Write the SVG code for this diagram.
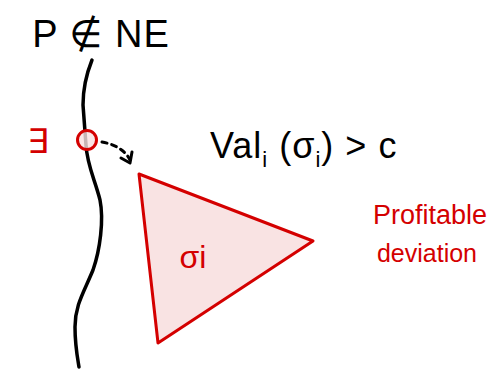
<svg xmlns="http://www.w3.org/2000/svg" width="504" height="370" viewBox="0 0 504 370">
<style>
.ink{font-family:"Liberation Sans","DejaVu Sans",sans-serif;fill:#000}
.red{font-family:"Liberation Sans","DejaVu Sans",sans-serif;fill:#d40000}
.dash{fill:none;stroke:#000;stroke-width:3;stroke-linecap:round;stroke-linejoin:round}
</style>
<rect width="504" height="370" fill="#fff"/>
<g id="title"><text class="ink" x="101" y="47" font-size="38" text-anchor="middle" letter-spacing="1">P ∉ NE</text></g>
<g id="curve"><path d="M92,60 C86,75 83,90 83,105 C84,120 85,130 86,145 C87,165 95,180 100,200 C104,220 100,250 93,270 C84,292 75,305 75,327 C75,345 77,355 79,367" fill="none" stroke="#000" stroke-width="3.5" stroke-linecap="round"/></g>
<g id="exists">
<text class="red" x="38" y="153" font-size="34" text-anchor="middle">∃</text>
<circle cx="87" cy="140" r="9.5" fill="#f9e0e0" fill-opacity="0.8" stroke="#d40000" stroke-width="3"/>
</g>
<g id="connectors">
<path class="dash" d="M102,142 Q123,146 130,160" stroke-dasharray="5,5"/>
<path class="dash" d="M121,158 L130,163 L132,152"/>
</g>
<g id="condition"><text class="ink" x="210" y="158" font-size="36" letter-spacing="1">Val<tspan font-size="22" dy="9">i</tspan><tspan dy="-9"> (σ</tspan><tspan font-size="22" dy="9">i</tspan><tspan dy="-9">) &gt; c</tspan></text></g>
<g id="sigma">
<polygon points="139,174 313,241 158,343" fill="#f9e3e3" stroke="#d40000" stroke-width="3" stroke-linejoin="round"/>
<text class="red" x="193" y="268" font-size="32" text-anchor="middle">σi</text>
</g>
<g id="label">
<text class="red" x="430" y="224" font-size="27" text-anchor="middle">Profitable</text>
<text class="red" x="427" y="262" font-size="25" text-anchor="middle">deviation</text>
</g>
</svg>
